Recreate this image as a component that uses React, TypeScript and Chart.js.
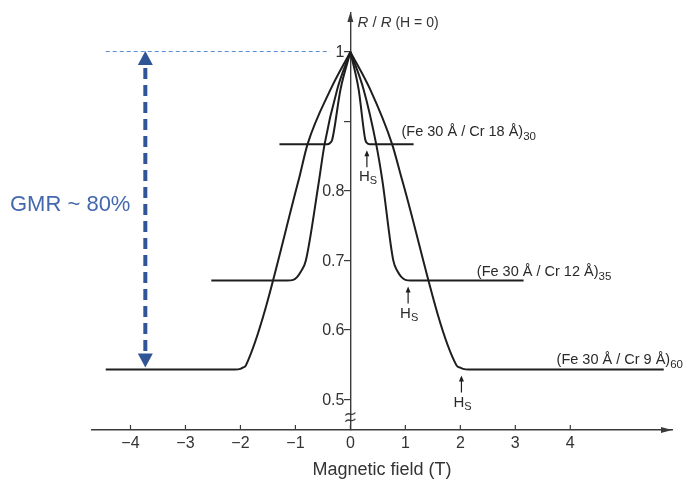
import { useEffect, useRef } from 'react';
import { Chart, registerables } from 'chart.js';

Chart.register(...registerables);

// Fe/Cr superlattices: resistance normalised to its zero-field value
const fieldCr18 = [-1.29, -0.42, -0.37, -0.33, -0.18, 0, 0.15, 0.27, 0.3, 0.35, 1.15];
const ratioCr18 = [0.867, 0.867, 0.869, 0.874, 0.946, 1, 0.946, 0.874, 0.869, 0.867, 0.867];

const fieldCr12 = [-2.53, -1.15, -1.04, -0.97, -0.9, -0.81, -0.58, -0.47, -0.24, 0, 0.24, 0.47, 0.58, 0.78, 0.86, 0.93, 1.0, 1.1, 3.15];
const ratioCr12 = [0.671, 0.671, 0.672, 0.676, 0.684, 0.7, 0.81, 0.867, 0.946, 1, 0.946, 0.867, 0.816, 0.7, 0.684, 0.676, 0.672, 0.671, 0.671];

const fieldCr9 = [-4.45, -2.1, -2.0, -1.95, -1.9, -0.94, -0.78, -0.36, 0, 0.36, 0.76, 0.94, 1.93, 1.99, 2.05, 2.15, 5.7];
const ratioCr9 = [0.543, 0.543, 0.544, 0.546, 0.549, 0.816, 0.867, 0.946, 1, 0.946, 0.867, 0.816, 0.549, 0.546, 0.544, 0.543, 0.543];

// Saturation fields H_S and the plateau each sample reaches there
const saturationField = [0.3, 1.05, 2.02];
const saturationRatio = [0.867, 0.671, 0.543];

const sampleNames = ['(Fe 30 Å / Cr 18 Å)', '(Fe 30 Å / Cr 12 Å)', '(Fe 30 Å / Cr 9 Å)'];
const bilayerCounts = ['30', '35', '60'];

const xTicks = [-4, -3, -2, -1, 0, 1, 2, 3, 4];
const xTickLabels = ['−4', '−3', '−2', '−1', '0', '1', '2', '3', '4'];
const yTicks = [0.5, 0.6, 0.7, 0.8, 0.9, 1];
const yTickLabels = ['0.5', '0.6', '0.7', '0.8', '', '1'];

const gmrText = 'GMR ~ 80%';
const xTitle = 'Magnetic field (T)';

const FONT = '"Liberation Sans", Arial, Helvetica, sans-serif';
const AXIS = '#3a3a3a';
const INK = '#1e1e1e';
const BLUE = '#2f5597';
const BLUE_TEXT = '#4468ae';
const BLUE_LIGHT = '#5b8fd6';

// Each sweep is split at its zero-field peak so the spline keeps the cusp sharp
function halves(xs: number[], ys: number[]) {
  const peak = ys.indexOf(Math.max(...ys));
  const pts = xs.map((x, i) => ({ x, y: ys[i] }));
  return [pts.slice(0, peak + 1), pts.slice(peak)];
}

function drawRuns(ctx: CanvasRenderingContext2D, x: number, y: number, runs: { t: string; f: string; dy?: number }[]) {
  let cx = x;
  for (const r of runs) {
    ctx.font = r.f;
    ctx.fillText(r.t, cx, y + (r.dy || 0));
    cx += ctx.measureText(r.t).width;
  }
}

const overlay = {
  id: 'overlay',
  afterDraw(chart: any) {
    const { ctx, chartArea } = chart;
    const xs = chart.scales.x;
    const ys = chart.scales.y;
    const px = (v: number) => xs.getPixelForValue(v);
    const py = (v: number) => ys.getPixelForValue(v);
    const x0 = px(0);
    ctx.save();

    // tick labels of the resistance axis, set left of the axis drawn at H = 0
    ctx.fillStyle = '#333';
    ctx.font = `16px ${FONT}`;
    ctx.textAlign = 'right';
    ctx.textBaseline = 'middle';
    ys.ticks.forEach((t: any) => {
      const label = yTickLabels[yTicks.indexOf(t.value)];
      if (label) ctx.fillText(label, x0 - 6, py(t.value) + 1);
    });

    // axis arrowheads
    ctx.fillStyle = AXIS;
    ctx.beginPath();
    ctx.moveTo(x0, chartArea.top - 1);
    ctx.lineTo(x0 - 3, chartArea.top + 9);
    ctx.lineTo(x0 + 3, chartArea.top + 9);
    ctx.closePath();
    ctx.fill();
    ctx.beginPath();
    ctx.moveTo(chartArea.right, chartArea.bottom);
    ctx.lineTo(chartArea.right - 11, chartArea.bottom - 3);
    ctx.lineTo(chartArea.right - 11, chartArea.bottom + 3);
    ctx.closePath();
    ctx.fill();

    // tick marks on the field axis point upwards
    ctx.strokeStyle = AXIS;
    ctx.lineWidth = 1.2;
    xTicks.forEach((v) => {
      ctx.beginPath();
      ctx.moveTo(px(v), chartArea.bottom);
      ctx.lineTo(px(v), chartArea.bottom - 5);
      ctx.stroke();
    });

    // axis break on the resistance axis
    ctx.lineWidth = 1.3;
    [0.479, 0.47].forEach((v) => {
      const y = py(v);
      ctx.beginPath();
      ctx.moveTo(x0 - 5, y + 1.5);
      ctx.bezierCurveTo(x0 - 2, y - 3.5, x0 + 2, y + 3.5, x0 + 5, y - 1.5);
      ctx.stroke();
    });

    // vertical axis title
    ctx.fillStyle = '#333';
    ctx.textBaseline = 'middle';
    ctx.textAlign = 'left';
    drawRuns(ctx, x0 + 7, chartArea.top + 10, [
      { t: 'R', f: `italic 15px ${FONT}` },
      { t: ' / ', f: `15px ${FONT}` },
      { t: 'R', f: `italic 15px ${FONT}` },
      { t: ' (H = 0)', f: `14px ${FONT}` },
    ]);

    // reference level R = R(H = 0)
    const yRef = Math.round(py(1)) - 0.5;
    ctx.strokeStyle = BLUE_LIGHT;
    ctx.lineWidth = 1;
    ctx.setLineDash([4, 3]);
    ctx.beginPath();
    ctx.moveTo(px(-4.45), yRef);
    ctx.lineTo(px(-0.37), yRef);
    ctx.stroke();

    // GMR double arrow between the zero-field value and the saturated value
    const ax = px(-3.73);
    const yTop = py(1) - 1;
    const yBot = py(saturationRatio[2]) - 2;
    ctx.strokeStyle = BLUE;
    ctx.fillStyle = BLUE;
    ctx.lineWidth = 4;
    ctx.setLineDash([11, 6]);
    ctx.beginPath();
    ctx.moveTo(ax, yTop + 17);
    ctx.lineTo(ax, yBot - 15);
    ctx.stroke();
    ctx.setLineDash([]);
    ctx.beginPath();
    ctx.moveTo(ax, yTop);
    ctx.lineTo(ax - 7.5, yTop + 14);
    ctx.lineTo(ax + 7.5, yTop + 14);
    ctx.closePath();
    ctx.fill();
    ctx.beginPath();
    ctx.moveTo(ax, yBot);
    ctx.lineTo(ax - 7.5, yBot - 14);
    ctx.lineTo(ax + 7.5, yBot - 14);
    ctx.closePath();
    ctx.fill();

    ctx.fillStyle = BLUE_TEXT;
    ctx.font = `22px ${FONT}`;
    ctx.textAlign = 'left';
    ctx.fillText(gmrText, 10, py(0.78));

    // sample labels with bilayer count as subscript
    const labelAt = [
      { x: 0.93, y: 0.885 },
      { x: 2.3, y: 0.683 },
      { x: 3.75, y: 0.557 },
    ];
    ctx.fillStyle = '#2a2a2a';
    sampleNames.forEach((name, i) => {
      drawRuns(ctx, px(labelAt[i].x), py(labelAt[i].y), [
        { t: name, f: `14.5px ${FONT}` },
        { t: bilayerCounts[i], f: `11.5px ${FONT}`, dy: 5 },
      ]);
    });

    // saturation field markers
    ctx.strokeStyle = INK;
    ctx.fillStyle = INK;
    saturationField.forEach((h, i) => {
      const x = px(h);
      const tip = py(saturationRatio[i]) + 6;
      ctx.lineWidth = 1.2;
      ctx.beginPath();
      ctx.moveTo(x, tip + 3);
      ctx.lineTo(x, tip + 17);
      ctx.stroke();
      ctx.beginPath();
      ctx.moveTo(x, tip);
      ctx.lineTo(x - 2.5, tip + 6);
      ctx.lineTo(x + 2.5, tip + 6);
      ctx.closePath();
      ctx.fill();
      ctx.fillStyle = '#2a2a2a';
      drawRuns(ctx, x - 8, tip + 27, [
        { t: 'H', f: `15px ${FONT}` },
        { t: 'S', f: `11px ${FONT}`, dy: 4 },
      ]);
      ctx.fillStyle = INK;
    });

    ctx.restore();
  },
};

export default function App() {
  const canvasRef = useRef<HTMLCanvasElement | null>(null);

  useEffect(() => {
    if (!canvasRef.current) return;
    const line = (data: { x: number; y: number }[]) => ({
      data,
      showLine: true,
      borderColor: INK,
      borderWidth: 2,
      pointRadius: 0,
      cubicInterpolationMode: 'monotone' as const,
      fill: false,
    });
    const datasets = [
      ...halves(fieldCr18, ratioCr18),
      ...halves(fieldCr12, ratioCr12),
      ...halves(fieldCr9, ratioCr9),
    ].map(line);
    const chart = new Chart(canvasRef.current, {
      type: 'scatter',
      data: { datasets },
      options: {
        responsive: true,
        maintainAspectRatio: false,
        animation: false,
        events: [],
        layout: { padding: { left: 92, right: 21, top: 13, bottom: 0 } },
        plugins: { legend: { display: false }, tooltip: { enabled: false } },
        scales: {
          x: {
            type: 'linear',
            position: 'bottom',
            min: -4.7,
            max: 5.85,
            afterBuildTicks: (axis: any) => {
              axis.ticks = xTicks.map((value) => ({ value }));
            },
            afterFit: (scale: any) => {
              scale.height = 53;
            },
            grid: { display: false, drawTicks: false },
            border: { display: true, color: AXIS, width: 1.4 },
            ticks: {
              color: '#333',
              padding: 4,
              maxRotation: 0,
              font: { family: FONT, size: 16 },
              callback: (value: any) => xTickLabels[xTicks.indexOf(Number(value))],
            },
            title: {
              display: true,
              text: xTitle,
              color: '#333',
              font: { family: FONT, size: 18 },
              padding: { top: 0, bottom: 2 },
            },
          },
          y: {
            type: 'linear',
            position: { x: 0 } as any,
            min: 0.456,
            max: 1.056,
            afterBuildTicks: (axis: any) => {
              axis.ticks = yTicks.map((value) => ({ value }));
            },
            grid: { display: true, drawOnChartArea: false, drawTicks: true, tickLength: 6, color: AXIS, lineWidth: 1.2 },
            border: { display: true, color: AXIS, width: 1.4 },
            ticks: { display: false },
          },
        },
      },
      plugins: [overlay],
    });
    return () => chart.destroy();
  }, []);

  return (
    <div style={{ position: 'fixed', left: 0, top: 0, width: 693, height: 483, background: '#fff' }}>
      <canvas ref={canvasRef} />
    </div>
  );
}
